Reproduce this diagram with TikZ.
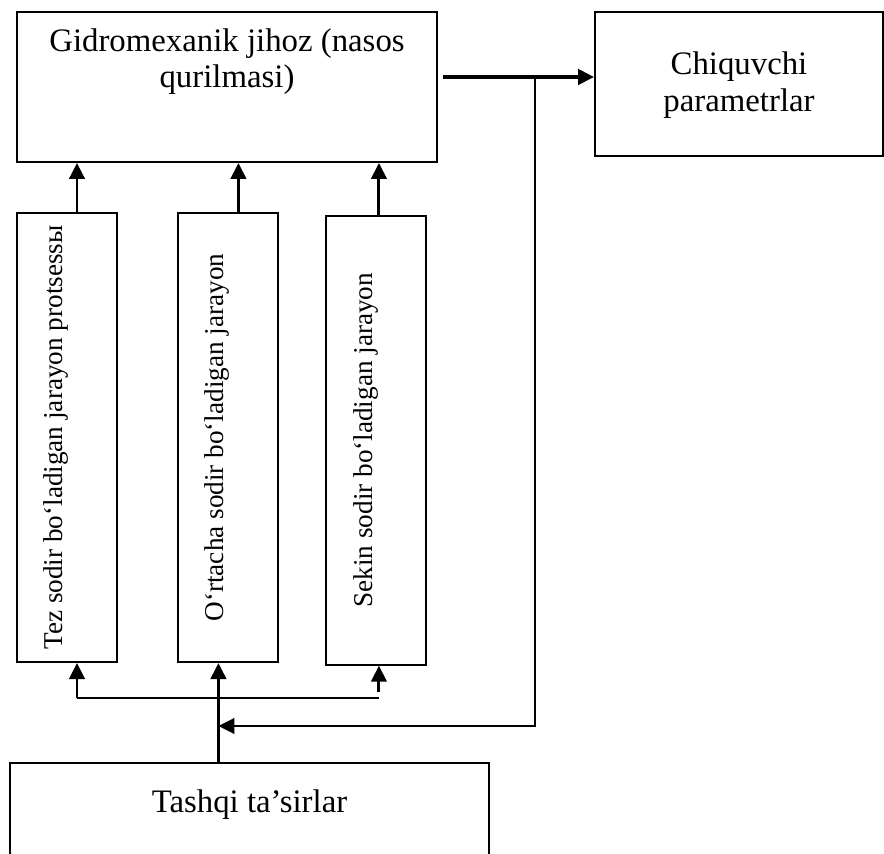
\documentclass[tikz,border=0pt]{standalone}
\usepackage{fontspec}
\setmainfont{Liberation Serif}
\usepackage{tikz}
\usetikzlibrary{arrows.meta, positioning, calc}

\begin{document}
\begin{tikzpicture}[
    x=0.375pt, y=-0.375pt,
    blok/.style={draw, line width=0.75pt, inner sep=0pt},
    vblok/.style={blok, minimum width=37.5pt, minimum height=168.4pt},
    txt/.style={inner sep=0pt, align=center, font=\fontsize{12.3}{13.6}\selectfont},
    vtxt/.style={inner sep=0pt, rotate=90, font=\fontsize{10.2}{12}\selectfont},
    arr/.style={line width=1.1pt, -{Triangle[length=6pt, width=5.8pt]}},
    ln/.style={line width=0.75pt}
]
\clip (0,0) rectangle (884,854);
\node[blok, minimum width=157.5pt, minimum height=56.25pt] (gidro) at (227,87) {};
\node[blok, minimum width=108pt, minimum height=54pt] (chiq) at (739,84) {};
\node[vblok] (p1) at (67,437.5) {};
\node[vblok, right=22.1pt of p1] (p2) {};
\node[vblok, right=17.25pt of p2, yshift=-1pt] (p3) {};
\node[blok, minimum width=179.6pt, minimum height=51.4pt] (tashqi) at (249.5,831.5) {};

\node[txt, below=6.5pt of gidro.north] (gidro-t) {Gidromexanik jihoz (nasos\\qurilmasi)};
\node[txt, below=15.2pt of chiq.north] (chiq-t) {Chiquvchi\\parametrlar};
\node[txt, below=10.4pt of tashqi.north] (tashqi-t) {Tashqi ta’sirlar};
\node[vtxt] (t1) at ($(p1)+(-11,0)$) {Tez sodir bo‘ladigan jarayon protsessы};
\node[vtxt] (t2) at ($(p2)+(-11,0)$) {O‘rtacha sodir bo‘ladigan jarayon};
\node[vtxt] (t3) at ($(p3)+(-10,0)$) {Sekin sodir bo‘ladigan jarayon};

\draw[arr] ($(p1.north)+(10,0)$) coordinate (u1) -- (u1 |- gidro.south);
\draw[arr] ($(p2.north)+(10.5,0)$) coordinate (u2) -- (u2 |- gidro.south);
\draw[arr] ($(p3.north)+(3,0)$) coordinate (u3) -- (u3 |- gidro.south);

\coordinate (split) at (535,77);
\coordinate (fb) at (535,726);
\coordinate (dist) at (0,698);
\coordinate (dist3) at (0,692);
\coordinate (in1) at ($(p1.south)+(10,0)$);
\coordinate (in2) at ($(p2.south)+(-9.5,0)$);
\coordinate (in3) at ($(p3.south)+(3,0)$);

\draw[arr, line width=1.3pt] ($(gidro.east)+(5,-10)$) -- (chiq.west |- split);
\draw[arr, line width=1pt] (split) -- (fb) -- (fb -| in2);
\draw[arr] (in2 |- tashqi.north) -- (in2);
\draw[ln] (in1 |- dist) -- (in3 |- dist);
\draw[arr] (in1 |- dist) -- (in1);
\draw[arr] (in3 |- dist3) -- (in3);
\end{tikzpicture}
\end{document}
